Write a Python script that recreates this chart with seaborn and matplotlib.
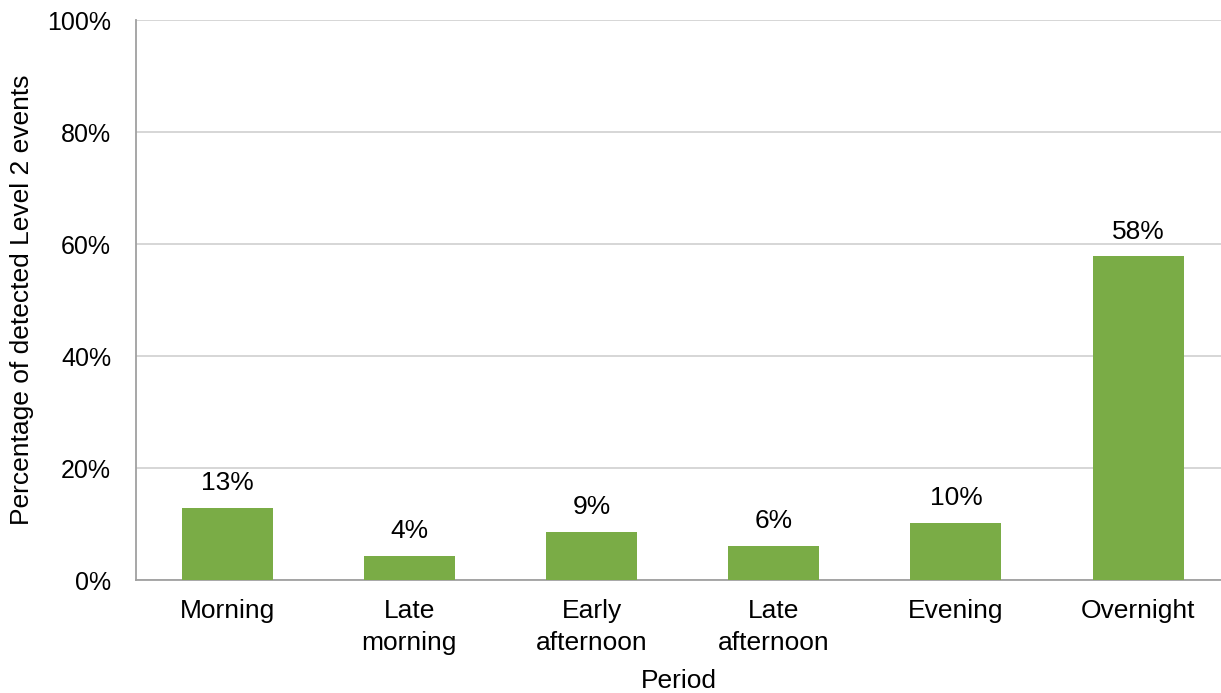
import pandas as pd
import matplotlib
matplotlib.use("Agg")
import matplotlib.pyplot as plt
import seaborn as sns
from matplotlib.ticker import PercentFormatter

# data
periods = ["Morning", "Late\nmorning", "Early\nafternoon", "Late\nafternoon", "Evening", "Overnight"]
share = [12.9, 4.3, 8.6, 6.1, 10.2, 57.8]
share_labels = ["13%", "4%", "9%", "6%", "10%", "58%"]

df = pd.DataFrame({"Period": periods, "Share": share})

sns.set_style("white")
plt.rcParams["font.family"] = ["Liberation Sans", "DejaVu Sans"]
plt.rcParams["text.color"] = "black"
plt.rcParams["xtick.color"] = "black"
plt.rcParams["ytick.color"] = "black"
plt.rcParams["axes.labelcolor"] = "black"

fig = plt.figure(figsize=(12.21, 6.93), dpi=100)
ax = fig.add_axes([0.1114, 0.163, 0.8886, 0.808])

sns.barplot(data=df, x="Period", y="Share", color="#7AAC46", saturation=1,
            width=0.5, linewidth=0, ax=ax, zorder=3)

ax.bar_label(ax.containers[0], labels=share_labels, padding=9, fontsize=19)

ax.set_ylim(0, 100)
ax.set_xlim(-0.5, 5.455)
ax.set_yticks([0, 20, 40, 60, 80, 100])
ax.yaxis.set_major_formatter(PercentFormatter(decimals=0))
ax.grid(axis="y", color="#D0D0D0", linewidth=1.2, zorder=0)
ax.tick_params(axis="both", length=0, labelsize=19)
ax.tick_params(axis="y", labelsize=18, pad=18)
ax.tick_params(axis="x", pad=14)
for lbl in ax.get_xticklabels():
    lbl.set_linespacing(1.4)

for side in ["top", "right"]:
    ax.spines[side].set_visible(False)
for side in ["left", "bottom"]:
    ax.spines[side].set_color("#A0A0A0")
    ax.spines[side].set_linewidth(1.3)

ax.set_xlabel("Period", fontsize=19)
ax.set_ylabel("Percentage of detected Level 2 events", fontsize=19)
ax.xaxis.set_label_coords(0.5, -0.159)
ax.yaxis.set_label_coords(-0.094, 0.5)

fig.savefig("out.png", dpi=100)
